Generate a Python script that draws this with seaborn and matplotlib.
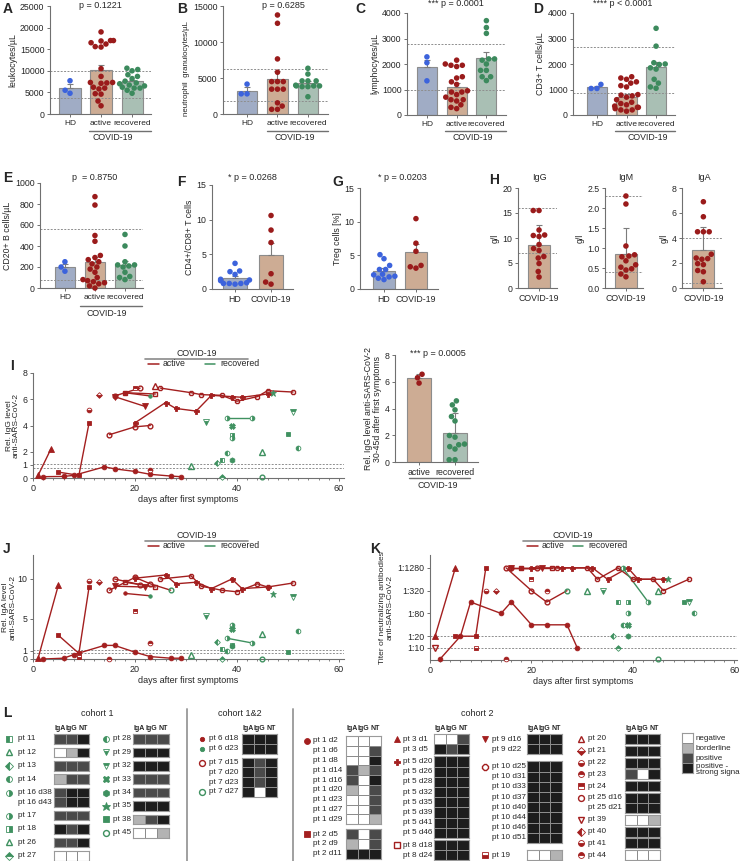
import numpy as np
import pandas as pd
import matplotlib
matplotlib.use("Agg")
import matplotlib.pyplot as plt
import seaborn as sns
from matplotlib.colors import ListedColormap
from matplotlib.ticker import MultipleLocator, FixedLocator, FixedFormatter, NullLocator

# ---------------- data: cell counts (A-G) ----------------
groups3 = ["HD", "active", "recovered"]
groups2 = ["HD", "COVID-19"]

leuko_hd = [7700, 5500, 4800]
leuko_active = [19000, 16500, 17000, 17000, 16900, 16200, 15500, 15600, 10500, 8700, 7300,
                7200, 7100, 7300, 6200, 6000, 5800, 4600, 4700, 3000, 1900]
leuko_rec = [10600, 10300, 10000, 9100, 8700, 8200, 7600, 7200, 7000, 6700, 6500, 6200,
             6000, 6000, 5500, 4800]
leuko_ref = [10000, 3600]

neutro_hd = [4150, 2800, 2800]
neutro_active = [13750, 12600, 7650, 5800, 4500, 4500, 4500, 3450, 3450, 3450, 1100, 1550, 650, 650]
neutro_rec = [6350, 5550, 4600, 4600, 4600, 4000, 3900, 3900, 3900, 3800, 3800, 2400]
neutro_ref = [6200, 1850]

lympho_hd = [2280, 2050, 1340]
lympho_active = [2150, 2000, 1950, 1950, 1900, 1500, 1450, 1300, 1200, 950, 900, 900, 800,
                 700, 600, 600, 550, 400, 300, 250]
lympho_rec = [3700, 3430, 3200, 2200, 2200, 2150, 2000, 1750, 1750, 1500, 1500, 1350]
lympho_ref = [2800, 1000]

cd3_hd = [1200, 1040, 1040]
cd3_active = [1500, 1450, 1400, 1300, 1250, 1150, 1100, 800, 780, 750, 700, 600, 500, 450,
              400, 350, 300, 300, 250, 200, 200, 150]
cd3_rec = [3400, 2700, 2050, 2000, 1980, 1850, 1800, 1400, 1250, 1050, 1100]
cd3_ref = [2650, 850]

cd20_hd = [250, 200, 160]
cd20_active = [870, 790, 500, 445, 310, 290, 270, 250, 230, 200, 180, 150, 100, 80, 70, 60,
               50, 40, 20, 0]
cd20_rec = [510, 400, 250, 220, 220, 210, 200, 150, 110, 80, 100]
cd20_ref = [560, 80]

cd4cd8_hd = [3.7, 2.6, 2.5, 2.1, 1.3, 1.4, 1.2, 0.8, 0.8, 0.8, 0.9, 0.7]
cd4cd8_covid = [10.6, 8.5, 6.7, 2.2, 0.7, 1.0]

treg_hd = [5.1, 4.5, 3.5, 2.9, 2.9, 2.2, 2.1, 1.9, 1.4, 1.6, 1.8]
treg_covid = [10.45, 6.8, 5.6, 3.1, 3.5, 3.3]

# ---------------- data: immunoglobulins (H) ----------------
igg_gl = [15.5, 15.5, 11.6, 10.6, 10.5, 10.3, 8.7, 7.9, 7.5, 6.3, 6.0, 4.9, 3.3, 2.2]
igm_gl = [2.3, 2.1, 1.05, 0.78, 0.83, 0.68, 0.58, 0.52, 0.48, 0.45, 0.35, 0.28, 0.8]
iga_gl = [6.9, 5.7, 4.5, 4.5, 4.5, 2.7, 2.35, 2.4, 2.3, 1.95, 1.87, 1.4, 1.3, 0.5]
igg_ref = [16, 7]
igm_ref = [2.3, 0.4]
iga_ref = [4, 0.4]

# IgG 30-45 d after first symptoms (I, right)
late_groups = ["active", "recovered"]
igg_late_active = [6.56, 5.9, 6.3]
igg_late_rec = [4.57, 4.27, 3.9, 3.07, 3.4, 1.86, 1.98, 1.34, 1.29, 1.15, 0.97, 0.17, 0.17]

# ---------------- data: time courses (I, J, K) ----------------
cohort1 = ["pt 11", "pt 12", "pt 13", "pt 14", "pt 16", "pt 17", "pt 18", "pt 26", "pt 27",
           "pt 28", "pt 29", "pt 32", "pt 33", "pt 34", "pt 35", "pt 38", "pt 45"]
switch_day = {"pt 6": 23, "pt 7": 27}   # recovered from this sample on

igg_series = [
    ("pt 1", [2, 6, 8, 14, 16, 20, 23, 27, 29], [0.1, 0.12, 0.2, 0.85, 0.7, 0.5, 0.28, 0.15, 0.1]),
    ("pt 2", [5, 9, 11], [0.45, 0.2, 4.2]),
    ("pt 3", [1, 3.5], [0.2, 2.2]),
    ("pt 5", [20, 26, 28, 32, 35, 39, 41, 46], [4.2, 5.75, 5.3, 5.1, 6.3, 6.2, 6.15, 6.4]),
    ("pt 6", [18, 23], [6.5, 6.25]),
    ("pt 7", [15, 20, 23], [3.3, 3.9, 4.0]),
    ("pt 8", [18, 24], [6.5, 6.4]),
    ("pt 9", [16, 22], [6.2, 5.45]),
    ("pt 10", [25, 31, 33, 37, 40, 44, 46, 51], [6.85, 6.5, 6.35, 6.3, 5.85, 6.2, 6.65, 6.55]),
    ("pt 25", [16, 21], [6.25, 6.85]),
    ("pt 24", [20], [6.85]), ("pt 20", [24], [7.0]), ("pt 21", [13], [6.35]),
    ("pt 22", [11], [5.2]), ("pt 44", [23], [0.6]),
    ("pt 12", [31], [0.95]), ("pt 29", [34], [4.3]), ("pt 16", [38, 43], [4.6, 4.6]),
    ("pt 33", [39], [3.95]), ("pt 18", [39], [3.3]), ("pt 17", [39], [3.05]),
    ("pt 14", [38], [1.9]), ("pt 11", [37], [1.35]), ("pt 13", [36], [1.15]),
    ("pt 34", [39], [1.35]), ("pt 27", [37], [0.1]), ("pt 26", [45], [2.0]),
    ("pt 45", [45], [0.1]), ("pt 35", [47], [6.5]), ("pt 38", [50], [3.35]),
    ("pt 32", [51], [5.05]), ("pt 28", [52], [2.25]),
]

iga_series = [
    ("pt 1", [2, 6, 8, 14, 16, 20, 23, 27, 29], [0.0, 0.1, 0.55, 1.7, 1.7, 0.85, 0.3, 0.1, 0.1]),
    ("pt 2", [5, 9, 11], [2.95, 0.7, 9.0]),
    ("pt 3", [1, 5], [0.1, 9.3]),
    ("pt 5", [20, 26, 28, 32, 35, 39, 41, 46], [10.1, 10.5, 9.4, 9.6, 8.8, 10.0, 8.8, 9.0]),
    ("pt 6", [18, 23], [8.2, 7.9]),
    ("pt 7", [15, 20, 23, 27], [8.6, 10.2, 9.4, 8.6]),
    ("pt 8", [18, 24], [9.6, 9.0]),
    ("pt 9", [16, 22], [9.1, 9.0]),
    ("pt 10", [25, 31, 33, 37, 40, 44, 46, 51], [10.0, 10.4, 9.1, 8.6, 8.4, 9.4, 9.0, 9.5]),
    ("pt 25", [16, 21], [10.0, 9.3]),
    ("pt 24", [20], [6.0]), ("pt 21", [13], [9.6]), ("pt 22", [11], [9.7]),
    ("pt 44", [23], [2.0]), ("pt 23", [15], [0.0]), ("pt 19", [9], [0.2]),
    ("pt 12", [31], [0.45]), ("pt 29", [34], [5.35]), ("pt 13", [36], [2.1]),
    ("pt 11", [37], [1.2]), ("pt 14", [38], [0.95]), ("pt 27", [37], [0.0]),
    ("pt 16", [38, 43], [2.6, 2.0]), ("pt 17", [39], [4.2]), ("pt 33", [39], [3.7]),
    ("pt 18", [39], [1.8]), ("pt 34", [39], [1.6]), ("pt 26", [45], [3.1]),
    ("pt 45", [45], [0.0]), ("pt 35", [47], [8.1]), ("pt 38", [50], [0.9]),
    ("pt 32", [51], [7.8]), ("pt 28", [52], [3.45]),
]

nt_series = [
    ("pt 1", [2, 6, 8, 14, 16, 20, 23, 27, 29], [5, 20, 160, 80, 160, 40, 40, 40, 10]),
    ("pt 2", [5, 9, 11], [20, 20, 1280]),
    ("pt 3", [1, 5], [20, 1280]),
    ("pt 5", [20, 26, 28, 32, 35, 39, 41, 46], [1280, 1280, 1280, 1280, 640, 1280, 640, 640]),
    ("pt 6", [18], [1280]),
    ("pt 7", [15, 20, 23, 27], [1280, 320, 160, 320]),
    ("pt 8", [18, 24], [1280, 1280]),
    ("pt 9", [16, 22], [1280, 1280]),
    ("pt 10", [25, 31, 33, 37, 40, 44, 46, 51], [1280, 1280, 640, 1280, 640, 640, 320, 640]),
    ("pt 25", [16, 21], [1280, 1280]),
    ("pt 24", [20], [640]), ("pt 21", [13], [320]), ("pt 22", [11], [320]),
    ("pt 44", [23], [320]), ("pt 23", [15], [5]), ("pt 19", [9], [10]), ("pt 39", [1], [10]),
    ("pt 16", [38, 43], [1280, 160]), ("pt 12", [31], [320]), ("pt 29", [34], [320]),
    ("pt 11", [37], [160]), ("pt 18", [39], [160]), ("pt 17", [39], [80]),
    ("pt 14", [38], [40]), ("pt 33", [39], [40]), ("pt 13", [36], [20]),
    ("pt 34", [39], [20]), ("pt 27", [37], [10]), ("pt 26", [45], [320]),
    ("pt 45", [45], [5]), ("pt 35", [47], [640]), ("pt 38", [50], [160]),
    ("pt 32", [51], [160]), ("pt 28", [52], [80]),
]
nt_ticks = [10, 20, 80, 320, 1280]
nt_labels = ["1:10", "1:20", "1:80", "1:320", "1:1280"]

# ---------------- data: qualitative summary (L) ----------------
# 0 negative, 1 borderline, 2 positive, 3 positive - strong signal ; columns IgA, IgG, NT
score_names = ["negative", "borderline", "positive", "positive -\nstrong signal"]

c1a_labels = ["pt 11", "pt 12", "pt 13", "pt 14", "pt 16 d38", "pt 16 d43", "pt 17", "pt 18", "pt 26", "pt 27"]
c1a_scores = [[2, 2, 3], [0, 1, 3], [2, 2, 2], [1, 2, 2], [2, 3, 3], [2, 3, 3], [2, 2, 2], [3, 2, 3], [2, 2, 3], [0, 0, 0]]
c1a_sizes = [1, 1, 1, 1, 2, 1, 1, 1, 1]

c1b_labels = ["pt 28", "pt 29", "pt 32", "pt 33", "pt 34", "pt 35", "pt 38", "pt 45"]
c1b_scores = [[2, 2, 2], [3, 3, 3], [3, 3, 3], [2, 2, 2], [2, 2, 2], [3, 3, 3], [1, 2, 3], [0, 0, 1]]
c1b_sizes = [1, 1, 1, 1, 1, 1, 1, 1]

c12_labels = ["pt 6 d18", "pt 6 d23", "pt 7 d15", "pt 7 d20", "pt 7 d23", "pt 7 d27"]
c12_scores = [[3, 3, 3], [3, 3, 3], [3, 2, 3], [3, 2, 3], [3, 2, 3], [3, np.nan, 3]]
c12_sizes = [2, 4]

c2a_labels = ["pt 1 d2", "pt 1 d6", "pt 1 d8", "pt 1 d14", "pt 1 d16", "pt 1 d20", "pt 1 d23",
              "pt 1 d27", "pt 1 d29", "pt 2 d5", "pt 2 d9", "pt 2 d11"]
c2a_scores = [[0, 0, 0], [0, 0, 2], [0, 0, 3], [2, 1, 2], [2, 0, 3], [1, 0, 2], [0, 0, 2], [0, 0, 2],
              [0, 0, 1], [2, 0, 2], [1, 0, 2], [3, 3, 3]]
c2a_sizes = [9, 3]

c2b_labels = ["pt 3 d1", "pt 3 d5", "pt 5 d20", "pt 5 d26", "pt 5 d28", "pt 5 d32", "pt 5 d35",
              "pt 5 d39", "pt 5 d41", "pt 5 d46", "pt 8 d18", "pt 8 d24"]
c2b_scores = [[0, 0, 2], [3, 2, 3]] + [[3, 3, 3]] * 10
c2b_sizes = [2, 8, 2]

c2c_labels = ["pt 9 d16", "pt 9 d22", "pt 10 d25", "pt 10 d31", "pt 10 d33", "pt 10 d37",
              "pt 10 d40", "pt 10 d44", "pt 10 d46", "pt 10 d51", "pt 19"]
c2c_scores = [[3, 3, 3]] * 10 + [[0, 0, 1]]
c2c_sizes = [2, 8, 1]

c2d_labels = ["pt 20", "pt 21", "pt 22", "pt 23", "pt 24", "pt 25 d16", "pt 25 d21", "pt 39",
              "pt 40", "pt 41", "pt 44"]
c2d_scores = [[3, 3, 3], [3, 3, 3], [3, 3, 3], [2, 0, 3], [3, 3, 3], [3, 3, 3], [3, 3, 3],
              [0, 0, 1], [3, 3, 3], [3, 3, 3], [0, 0, 0]]
c2d_sizes = [1, 1, 1, 1, 1, 2, 1, 1, 1, 1]

# ---------------- style ----------------
HD_BAR, HD_PT = "#9aaacb", "#3c63dc"
ACT_BAR, ACT_PT = "#d7ab8a", "#9a1b1b"
REC_BAR, REC_PT = "#a5c3b4", "#3c8a5d"
RED, GREEN = "#a31f1f", "#3f9160"
AXC = "#707070"

MARKERS = {
    "pt 1": ("o", "full"), "pt 2": ("s", "full"), "pt 3": ("^", "full"), "pt 5": ("P", "full"),
    "pt 6": (".", "full"), "pt 7": ("o", "none"), "pt 8": ("s", "none"), "pt 9": ("v", "full"),
    "pt 10": ("8", "none"), "pt 19": ("s", "bottom"), "pt 20": ("^", "none"), "pt 21": ("D", "bottom"),
    "pt 22": ("o", "bottom"), "pt 23": ("o", "top"), "pt 24": ("s", "top"), "pt 25": ("o", "none"),
    "pt 39": ("v", "none"), "pt 40": ("D", "left"), "pt 41": ("o", "bottom"), "pt 44": ("o", "top"),
    "pt 11": ("s", "left"), "pt 12": ("^", "none"), "pt 13": ("D", "left"), "pt 14": ("o", "left"),
    "pt 16": ("o", "right"), "pt 17": ("o", "right"), "pt 18": ("s", "right"), "pt 26": ("^", "none"),
    "pt 27": ("D", "top"), "pt 28": ("o", "left"), "pt 29": ("v", "bottom"), "pt 32": ("v", "top"),
    "pt 33": ("X", "full"), "pt 34": ("h", "full"), "pt 35": ("*", "full"), "pt 38": ("s", "full"),
    "pt 45": ("o", "none"),
}
MSIZE = {"o": 3.4, "s": 3.2, "^": 3.7, "v": 3.7, "D": 2.9, "X": 4.0, "*": 5.0, ".": 5.0,
         "h": 3.8, "8": 3.8, "P": 3.6}

sns.set_theme(style="ticks")
plt.rcParams["font.family"] = ["Liberation Sans", "DejaVu Sans"]
plt.rcParams["axes.linewidth"] = 0.8

W, H = 740, 861
fig = plt.figure(figsize=(W / 100, H / 100), dpi=100)


def px_axes(x0, y0, x1, y1):
    return fig.add_axes([x0 / W, 1 - y1 / H, (x1 - x0) / W, (y1 - y0) / H])


ov = px_axes(0, 0, W, H)
ov.set_xlim(0, W)
ov.set_ylim(H, 0)
ov.axis("off")
ov.set_zorder(10)


def style(ax, xsize=6.3):
    sns.despine(ax=ax)
    for s in ("left", "bottom"):
        ax.spines[s].set_color(AXC)
        ax.spines[s].set_linewidth(0.8)
    ax.tick_params(axis="both", labelsize=6.3, length=2.5, width=0.7, color=AXC, pad=1.5)
    ax.tick_params(axis="x", labelsize=xsize)


def draw_marker(ax, x, y, pid, color, scale=1.0):
    m, fs = MARKERS[pid]
    ax.plot([x], [y], linestyle="none", marker=m, fillstyle=fs, markersize=MSIZE[m] * scale,
            color=color, markeredgecolor=color, markerfacecoloralt="white",
            markeredgewidth=1.0 if fs == "none" else 0.6, clip_on=False, zorder=4)


def bar_panel(ax, cats, vals, bar_cols, pt_cols, err, xlim, ylim, yticks, refs, ylabel,
              width=0.68, xsize=6.0, ysize=6.3):
    df = pd.DataFrame({"group": np.repeat(cats, [len(v) for v in vals]),
                       "value": np.concatenate(vals)})
    sns.barplot(data=df, x="group", y="value", hue="group", order=cats, hue_order=cats,
                palette=dict(zip(cats, bar_cols)), errorbar=None, width=width,
                edgecolor="#8c8c8c", linewidth=0.8, legend=False, ax=ax, zorder=1)
    st = df.groupby("group")["value"].agg(["mean", "std", "count"]).reindex(cats)
    e = st["std"] if err == "sd" else st["std"] / np.sqrt(st["count"])
    ax.errorbar(np.arange(len(cats)), st["mean"], yerr=[np.zeros(len(cats)), e], fmt="none",
                ecolor="#7c7c7c", elinewidth=0.8, capsize=2.5, capthick=0.8, zorder=2)
    sns.swarmplot(data=df, x="group", y="value", hue="group", order=cats, hue_order=cats,
                  palette=dict(zip(cats, pt_cols)), size=4.0, linewidth=0, legend=False,
                  ax=ax, zorder=3, clip_on=False)
    for r in refs:
        ax.axhline(r, color="#8e8e8e", lw=0.7, ls=(0, (2, 1.5)), zorder=1.5)
    ax.set_xlim(*xlim)
    ax.set_ylim(*ylim)
    ax.set_yticks(yticks)
    ax.set_xlabel("")
    ax.set_ylabel(ylabel, fontsize=ysize, labelpad=2)
    style(ax, xsize)


def series_panel(ax, series):
    rows = []
    for pid, days, vals in series:
        for d, v in zip(days, vals):
            rows.append((pid, d, v, "recovered" if pid in cohort1 else "active"))
    df = pd.DataFrame(rows, columns=["pid", "day", "value", "status"])
    multi = df[df["pid"].map(df["pid"].value_counts()) > 1]
    sns.lineplot(data=multi, x="day", y="value", units="pid", estimator=None, hue="status",
                 palette={"active": RED, "recovered": GREEN}, sort=False, legend=False,
                 linewidth=1.0, ax=ax, zorder=3)
    for pid, days, vals in series:
        for d, v in zip(days, vals):
            rec = pid in cohort1 or d >= switch_day.get(pid, 1e9)
            draw_marker(ax, d, v, pid, GREEN if rec else RED)
    ax.set_xlim(0, 61)
    ax.set_xticks([0, 20, 40, 60])
    ax.xaxis.set_minor_locator(MultipleLocator(2))
    ax.set_xlabel("days after first symptoms", fontsize=6.5, labelpad=2)
    style(ax, 6.5)
    ax.tick_params(axis="x", which="minor", length=1.6, width=0.6, color=AXC)


def bracket(x0, x1, y, tx, ty, text="COVID-19"):
    ov.plot([x0, x1], [y, y], color=AXC, lw=1.0)
    ov.text(tx, ty, text, fontsize=6.3, ha="center", va="center")


def ov_text(x, y, s, size=6.5, **kw):
    ov.text(x, y, s, fontsize=size, va="center", **kw)


# ---------------- A-D ----------------
axA = px_axes(50, 6, 151, 114)
bar_panel(axA, groups3, [leuko_hd, leuko_active, leuko_rec], [HD_BAR, ACT_BAR, REC_BAR],
          [HD_PT, ACT_PT, REC_PT], "se", (-0.645, 2.61), (0, 25000), range(0, 25001, 5000),
          leuko_ref, "leukocytes/µL")
axB = px_axes(223, 6, 328, 114)
bar_panel(axB, groups3, [neutro_hd, neutro_active, neutro_rec], [HD_BAR, ACT_BAR, REC_BAR],
          [HD_PT, ACT_PT, REC_PT], "se", (-0.79, 2.66), (0, 15000), range(0, 15001, 5000),
          neutro_ref, "neutrophil  granulocytes/µL", ysize=5.7)
axB.yaxis.set_label_coords(-0.31, 0.42)
axC = px_axes(407, 13, 506, 115)
bar_panel(axC, groups3, [lympho_hd, lympho_active, lympho_rec], [HD_BAR, ACT_BAR, REC_BAR],
          [HD_PT, ACT_PT, REC_PT], "se", (-0.67, 2.66), (0, 4000), range(0, 4001, 1000),
          lympho_ref, "lymphocytes/µL")
axD = px_axes(573, 13, 675, 115)
bar_panel(axD, groups3, [cd3_hd, cd3_active, cd3_rec], [HD_BAR, ACT_BAR, REC_BAR],
          [HD_PT, ACT_PT, REC_PT], "se", (-0.81, 2.64), (0, 4000), range(0, 4001, 1000),
          cd3_ref, "CD3+ T cells/µL")

# ---------------- E-H ----------------
axE = px_axes(40, 183, 143, 288)
bar_panel(axE, groups3, [cd20_hd, cd20_active, cd20_rec], [HD_BAR, ACT_BAR, REC_BAR],
          [HD_PT, ACT_PT, REC_PT], "se", (-0.83, 2.6), (0, 1000), range(0, 1001, 200),
          cd20_ref, "CD20+ B cells/µL")
axF = px_axes(212, 185, 293, 289)
bar_panel(axF, groups2, [cd4cd8_hd, cd4cd8_covid], [HD_BAR, ACT_BAR], [HD_PT, ACT_PT], "se",
          (-0.64, 1.61), (0, 15), [0, 5, 10, 15], [], "CD4+/CD8+ T cells", xsize=6.3)
axG = px_axes(360, 188, 438, 289)
bar_panel(axG, groups2, [treg_hd, treg_covid], [HD_BAR, ACT_BAR], [HD_PT, ACT_PT], "se",
          (-0.75, 1.69), (0, 15), [0, 5, 10, 15], [], "Treg cells [%]", xsize=6.3)

h_specs = [
    ((518, 188, 557, 288), igg_gl, (-0.75, 0.64), (0, 20), [0, 5, 10, 15, 20], igg_ref, "IgG"),
    ((605, 188, 643, 288), igm_gl, (-0.76, 0.62), (0, 2.5), [0, 0.5, 1.0, 1.5, 2.0, 2.5], igm_ref, "IgM"),
    ((682, 188, 722, 288), iga_gl, (-0.78, 0.68), (0, 8), [0, 2, 4, 6, 8], iga_ref, "IgA"),
]
for box, vals, xl, yl, yt, refs, title in h_specs:
    axh = px_axes(*box)
    bar_panel(axh, ["COVID-19"], [vals], [ACT_BAR], [ACT_PT], "sd", xl, yl, yt, refs, "g/l",
              width=0.8, xsize=6.3)
    if title == "IgM":
        axh.set_yticklabels([f"{t:.1f}" for t in yt])
    ov_text((box[0] + box[2]) / 2 + 2, 177, title, ha="center")

# ---------------- I ----------------
axI = px_axes(33, 373, 344, 478)
series_panel(axI, igg_series)
axI.set_ylim(0, 8)
axI.set_yticks([0, 1, 2, 4, 6, 8])
for r in (0.8, 1.1):
    axI.axhline(r, color="#8e8e8e", lw=0.7, ls=(0, (2, 1.5)), zorder=1)
axI.set_ylabel("Rel. IgG level\nanti-SARS-CoV-2", fontsize=6.0, labelpad=2, linespacing=1.0)

axIr = px_axes(395, 355, 478, 462)
bar_panel(axIr, late_groups, [igg_late_active, igg_late_rec], [ACT_BAR, REC_BAR],
          [ACT_PT, REC_PT], "sd", (-0.67, 1.64), (0, 8), [0, 2, 4, 6, 8], [],
          "Rel. IgG level anti-SARS-CoV-2\n30-45d after first symptoms", xsize=6.3)
axIr.yaxis.label.set_linespacing(1.0)

# ---------------- J ----------------
axJ = px_axes(33, 555, 344, 659)
series_panel(axJ, iga_series)
axJ.set_ylim(0, 13)
axJ.set_yticks([0, 1, 5, 10])
for r in (0.8, 1.1):
    axJ.axhline(r, color="#8e8e8e", lw=0.7, ls=(0, (2, 1.5)), zorder=1)
axJ.set_ylabel("Rel. IgA level\nanti-SARS-CoV-2", fontsize=6.0, labelpad=1, linespacing=1.0)

# ---------------- K ----------------
axK = px_axes(430, 555, 737, 660)
axK.set_yscale("log", base=2)
series_panel(axK, nt_series)
axK.set_xlim(0, 60.5)
axK.set_ylim(4.7, 2800)
axK.yaxis.set_major_locator(FixedLocator(nt_ticks))
axK.yaxis.set_major_formatter(FixedFormatter(nt_labels))
axK.yaxis.set_minor_locator(NullLocator())
for r in (10, 20):
    axK.axhline(r, color="#8e8e8e", lw=0.7, ls=(0, (2, 1.5)), zorder=1)
axK.set_ylabel("Titer of neutralizing antibodies\nanti-SARS-CoV-2", fontsize=6.0, labelpad=3,
               linespacing=1.0)

# legends of I, J, K
for lx, ly, x0, x1, rx, gx in [(197, 353, 145, 248, 148, 205), (197, 535, 145, 248, 148, 205),
                               (573, 535, 523, 626, 527, 573)]:
    ov_text(lx, ly, "COVID-19", size=6.3, ha="center")
    ov.plot([x0, x1], [ly + 6, ly + 6], color="#8a8a8a", lw=1.2)
    ov.plot([rx, rx + 11], [ly + 11, ly + 11], color=RED, lw=1.1)
    ov_text(rx + 15, ly + 11, "active", size=6.3)
    ov.plot([gx, gx + 10], [ly + 11, ly + 11], color=GREEN, lw=1.1)
    ov_text(gx + 15, ly + 11, "recovered", size=6.3)

# brackets and p values
bracket(89, 151, 131, 113, 138)
bracket(267, 328, 131, 295, 138)
bracket(445, 506, 131, 473, 138)
bracket(615, 675, 131, 648, 138)
bracket(80, 142, 306, 107, 314)
bracket(409, 470, 478, 438, 486)

for x, y, s in [(100, 5, "p = 0.1221"), (283, 5, "p = 0.6285"), (456, 4, "*** p = 0.0001"),
                (623, 4, "**** p < 0.0001"), (95, 177, "p  = 0.8750"), (252, 177, "* p = 0.0268"),
                (402, 177, "* p = 0.0203"), (438, 353, "*** p = 0.0005")]:
    ov_text(x, y, s, ha="center")

for x, y, s in [(3, 9, "A"), (177, 9, "B"), (355, 9, "C"), (533, 9, "D"), (3, 178, "E"),
                (177, 182, "F"), (332, 182, "G"), (489, 180, "H"), (10, 366, "I"),
                (3, 549, "J"), (370, 549, "K"), (3, 713, "L")]:
    ov.text(x, y, s, fontsize=10, weight="bold", va="center", ha="left")

# ---------------- L ----------------
score_cmap = ListedColormap(["#ffffff", "#b3b3b3", "#4a4a4a", "#1d1d1d"])


def heat_column(labels, scores, sizes, x0, x1, top, h, gap, label_x, marker_x, color, mixed=False):
    i, y = 0, top
    for n in sizes:
        block = np.array(scores[i:i + n], dtype=float)
        ax = px_axes(x0, y, x1, y + n * h)
        sns.heatmap(block, ax=ax, cmap=score_cmap, vmin=-0.5, vmax=3.5, cbar=False,
                    linewidths=0.4, linecolor="#8c8c8c", xticklabels=False, yticklabels=False)
        for s in ax.spines.values():
            s.set_visible(True)
            s.set_color("#9a9a9a")
            s.set_linewidth(0.8)
        for k in range(n):
            ov_text(label_x, y + (k + 0.5) * h, labels[i + k], size=5.9)
        pid = " ".join(labels[i].split()[:2])
        draw_marker(ov, marker_x, y + 0.5 * h, pid, color, scale=1.25)
        if mixed:
            draw_marker(ov, marker_x, y + (n - 0.5) * h, pid, GREEN, scale=1.25)
        i += n
        y += n * h + gap
    for j, name in enumerate(["IgA", "IgG", "NT"]):
        ov.text(x0 + (j + 0.5) * (x1 - x0) / 3, 728, name, fontsize=5.0, weight="bold",
                ha="center", va="center")


heat_column(c1a_labels, c1a_scores, c1a_sizes, 54, 89, 734.2, 9.6, 3.8, 18, 9, GREEN)
heat_column(c1b_labels, c1b_scores, c1b_sizes, 133, 169, 734.2, 9.6, 3.8, 113, 106, GREEN)
heat_column(c12_labels, c12_scores, c12_sizes, 242, 277, 734, 9.8, 4, 209, 202, RED, mixed=True)
heat_column(c2a_labels, c2a_scores, c2a_sizes, 346, 381, 736, 9.8, 5, 313, 307, RED)
heat_column(c2b_labels, c2b_scores, c2b_sizes, 434, 469, 734, 10.2, 2, 403, 397, RED)
heat_column(c2c_labels, c2c_scores, c2c_sizes, 527, 562, 734, 10.2, 7, 492, 485, RED)
heat_column(c2d_labels, c2d_scores, c2d_sizes, 625, 660, 734, 10.0, 1.8, 588, 581, RED)

axLeg = px_axes(682, 733, 693, 773)
sns.heatmap(np.arange(len(score_names)).reshape(-1, 1), ax=axLeg, cmap=score_cmap, vmin=-0.5,
            vmax=3.5, cbar=False, linewidths=0.4, linecolor="#8c8c8c", xticklabels=False,
            yticklabels=False)
for s in axLeg.spines.values():
    s.set_visible(True)
    s.set_color("#9a9a9a")
for k, name in enumerate(score_names):
    yk = 733 + (k + 0.5) * 10 + (1.5 if k == 3 else 0)
    ov.text(696, yk, name, fontsize=5.8, va="center", ha="left", linespacing=0.75)

for x in (187, 293):
    ov.plot([x, x], [709, 861], color="#a0a0a0", lw=1.4)
ov_text(97, 713, "cohort 1", ha="center")
ov_text(240, 713, "cohort 1&2", ha="center")
ov_text(477, 713, "cohort 2", ha="center")

fig.savefig("out.png", dpi=100)
